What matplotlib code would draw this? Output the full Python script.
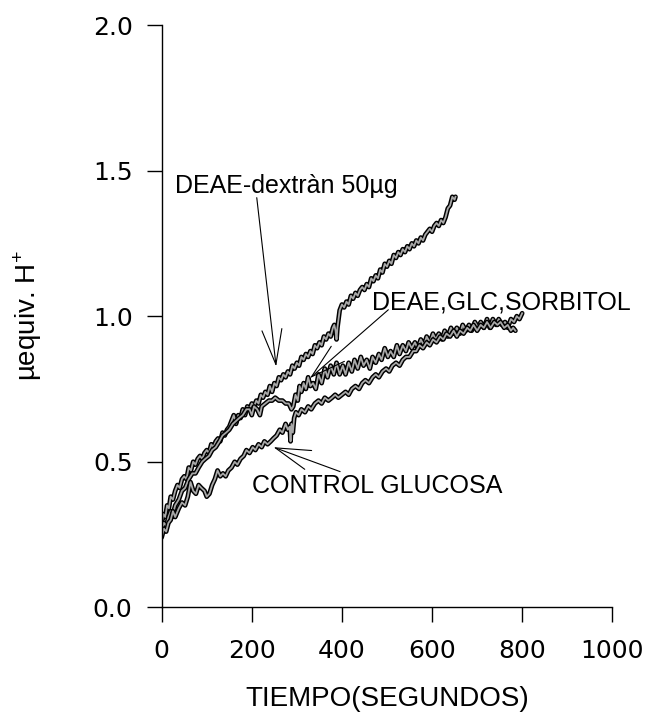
import matplotlib
matplotlib.use("Agg")
import matplotlib.pyplot as plt

plt.rcParams['font.family'] = ['Liberation Sans', 'DejaVu Sans']
plt.rcParams['mathtext.fontset'] = 'custom'
plt.rcParams['mathtext.rm'] = 'Liberation Sans'

# DEAE-dextràn 50µg (upper curve)
dextran_t = [0, 4, 8, 12, 16, 20, 25, 30, 35, 40, 45, 50, 55, 60, 65, 70, 75, 80, 85, 90,
             95, 100, 105, 110, 115, 120, 125, 130, 135, 140, 145,
             150, 155, 160, 165, 170, 175, 180, 185, 190, 195, 200, 205, 210, 215, 220,
             225, 230, 235, 240, 245, 250, 255, 260, 265, 270, 275, 280, 285, 290, 295,
             300, 305, 310, 315, 320, 325, 330, 335, 340, 345, 350, 355, 360, 365, 370,
             375, 380,
             383, 386, 388, 390,
             395, 400, 405, 410, 415, 420, 425, 430, 435, 440, 445, 450, 455, 460, 465,
             470, 475, 480, 485, 490, 495, 500, 505, 510, 515, 520, 525, 530, 535, 540,
             545, 550, 555, 560, 565, 570, 575, 580, 585, 590, 595, 600, 605, 610, 615,
             620, 625, 630, 635, 640, 645, 650,
             652]
dextran_y = [0.29, 0.32, 0.31, 0.35, 0.34, 0.38, 0.37, 0.40, 0.42, 0.41, 0.44, 0.45, 0.44,
             0.48, 0.47, 0.50, 0.49, 0.51, 0.52, 0.51, 0.53, 0.54, 0.53, 0.56, 0.55, 0.57,
             0.58, 0.57, 0.60, 0.59, 0.61,
             0.62, 0.64, 0.66, 0.63, 0.66, 0.65, 0.68, 0.66, 0.69, 0.68, 0.70, 0.69, 0.71,
             0.70, 0.73, 0.72, 0.74, 0.73, 0.76, 0.74, 0.77, 0.76, 0.79, 0.78, 0.80, 0.79,
             0.81, 0.80, 0.83, 0.82, 0.84, 0.83, 0.86, 0.85, 0.87, 0.86, 0.88, 0.87, 0.90,
             0.89, 0.91, 0.90, 0.93, 0.92, 0.94, 0.93, 0.96,
             0.97, 0.95, 0.92, 0.96,
             1.02, 1.04, 1.03, 1.05, 1.04, 1.07, 1.06, 1.08, 1.07, 1.09, 1.10, 1.09, 1.11,
             1.10, 1.13, 1.12, 1.14, 1.13, 1.16, 1.15, 1.18, 1.17, 1.19, 1.18, 1.21, 1.20,
             1.22, 1.21, 1.23, 1.22, 1.24, 1.23, 1.25, 1.24, 1.26, 1.25, 1.27, 1.26, 1.28,
             1.29, 1.30, 1.29, 1.31, 1.32, 1.31, 1.33, 1.32, 1.34, 1.37, 1.38, 1.41, 1.40,
             1.41]

# DEAE, GLC, SORBITOL
sorb_t = [0, 5, 10, 15, 20, 25, 30, 38, 45, 52, 60, 68, 75, 82, 90, 97, 105, 112, 120,
          128, 135, 143, 150, 158, 165, 172, 180, 188, 195, 200, 205, 212, 218, 222, 230,
          238, 245, 252, 260, 268, 275, 282, 288, 292, 297, 302, 306, 310, 315, 320, 325,
          330, 336, 342, 348, 355, 362, 368, 375, 382, 388, 395, 402, 408, 415, 422, 428,
          435, 442, 448, 455, 462, 468, 475, 482, 488, 495, 502, 508, 515, 522, 528, 535,
          542, 548, 555, 562, 568, 575, 582, 588, 595, 602, 608, 615, 622, 628, 635, 642,
          648, 655, 662, 668, 675, 682, 688, 695, 702, 708, 715, 722, 728, 735, 742, 748,
          755, 762, 768, 775, 782, 788, 794, 800]
sorb_y = [0.26, 0.29, 0.28, 0.31, 0.33, 0.32, 0.35, 0.37, 0.40, 0.41, 0.44, 0.46, 0.46,
          0.48, 0.50, 0.51, 0.52, 0.54, 0.55, 0.57, 0.59, 0.60, 0.61, 0.63, 0.64, 0.65,
          0.66, 0.68, 0.68, 0.66, 0.69, 0.68, 0.66, 0.69, 0.70, 0.71, 0.71, 0.72, 0.71,
          0.71, 0.70, 0.70, 0.68, 0.69, 0.73, 0.71, 0.76, 0.74, 0.77, 0.75, 0.79, 0.76,
          0.77, 0.75, 0.80, 0.77, 0.82, 0.79, 0.83, 0.80, 0.84, 0.80, 0.83, 0.80, 0.84,
          0.81, 0.85, 0.82, 0.86, 0.83, 0.85, 0.82, 0.86, 0.84, 0.87, 0.85, 0.89, 0.86,
          0.88, 0.86, 0.90, 0.87, 0.90, 0.88, 0.91, 0.89, 0.91, 0.89, 0.92, 0.90, 0.93,
          0.91, 0.94, 0.92, 0.94, 0.92, 0.95, 0.93, 0.96, 0.94, 0.96, 0.94, 0.97, 0.95,
          0.97, 0.95, 0.98, 0.96, 0.98, 0.96, 0.99, 0.96, 0.99, 0.97, 0.99, 0.97, 0.98,
          0.96, 0.99, 0.98, 1.00, 0.99, 1.01]

# CONTROL GLUCOSA
gluc_t = [0, 5, 10, 15, 20, 25, 30, 38, 45, 52, 58, 64, 70, 76, 82, 88, 95, 100, 106,
          112, 118, 124, 130, 136, 142, 148, 155, 162, 168, 175, 182, 188, 195, 202, 208,
          215, 222, 228, 235, 242, 248, 255, 262, 268, 275, 280, 284, 286, 288, 291, 294,
          298, 304, 310, 318, 325, 332, 340, 348, 355, 362, 370, 378, 385, 392, 400, 408,
          415, 422, 430, 438, 445, 452, 460, 468, 475, 482, 490, 498, 505, 512, 520, 528,
          535, 542, 550, 558, 565, 572, 580, 588, 595, 602, 610, 618, 625, 632, 640, 648,
          655, 662, 670, 678, 685, 692, 700, 708, 715, 722, 730, 738, 745, 752, 760, 768,
          775, 780, 785]
gluc_y = [0.24, 0.27, 0.26, 0.29, 0.30, 0.33, 0.31, 0.34, 0.36, 0.35, 0.38, 0.43, 0.40,
          0.39, 0.42, 0.41, 0.40, 0.38, 0.39, 0.42, 0.44, 0.47, 0.45, 0.46, 0.45, 0.47,
          0.48, 0.50, 0.49, 0.51, 0.52, 0.54, 0.53, 0.55, 0.54, 0.56, 0.55, 0.57, 0.56,
          0.57, 0.58, 0.59, 0.61, 0.60, 0.63, 0.61, 0.62, 0.57, 0.63, 0.60, 0.65, 0.67,
          0.66, 0.68, 0.67, 0.69, 0.68, 0.70, 0.71, 0.70, 0.72, 0.71, 0.72, 0.73, 0.72,
          0.73, 0.74, 0.73, 0.75, 0.76, 0.75, 0.77, 0.78, 0.77, 0.79, 0.80, 0.79, 0.81,
          0.82, 0.81, 0.83, 0.84, 0.83, 0.85, 0.86, 0.86, 0.88, 0.88, 0.90, 0.89, 0.91,
          0.90, 0.92, 0.91, 0.93, 0.92, 0.94, 0.93, 0.95, 0.93, 0.95, 0.94, 0.96, 0.95,
          0.97, 0.95, 0.97, 0.96, 0.98, 0.96, 0.98, 0.97, 0.98, 0.96, 0.97, 0.95, 0.96,
          0.95]

xticks = [0, 200, 400, 600, 800, 1000]
yticks = [0.0, 0.5, 1.0, 1.5, 2.0]

fig = plt.figure(figsize=(6.48, 7.21), dpi=100)
ax = fig.add_axes([0.2495, 0.1577, 0.6954, 0.8076])

for t, y in [(dextran_t, dextran_y), (sorb_t, sorb_y), (gluc_t, gluc_y)]:
    ax.plot(t, y, color='black', lw=3.4, solid_joinstyle='round', solid_capstyle='round')
    ax.plot(t, y, color='#a8a8a8', lw=1.3, solid_joinstyle='round')

ax.set_xlim(0, 1000)
ax.set_ylim(0, 2.0)
ax.set_xticks(xticks)
ax.set_yticks(yticks)
ax.set_xticklabels([str(v) for v in xticks])
ax.set_yticklabels([f"{v:.1f}" for v in yticks])
for lab in ax.get_xticklabels() + ax.get_yticklabels():
    lab.set_fontfamily('DejaVu Sans')
    lab.set_fontsize(18)
ax.tick_params(axis='x', direction='out', length=11, width=1, pad=12)
ax.tick_params(axis='y', direction='out', length=11, width=1, pad=10)
ax.spines['top'].set_visible(False)
ax.spines['right'].set_visible(False)
for s in ['left', 'bottom']:
    ax.spines[s].set_linewidth(1.0)

ax.set_xlabel("TIEMPO(SEGUNDOS)", fontsize=20)
ax.xaxis.set_label_coords(0.5, -0.135)
ax.set_ylabel("µequiv. H$^{+}$", fontsize=20)
ax.yaxis.set_label_coords(-0.262, 0.5)

arrow = dict(arrowstyle='->,head_length=1.4,head_width=0.4', lw=0.8, color='black',
             shrinkA=0, shrinkB=0, mutation_scale=18)
ax.text(29, 1.423, "DEAE-dextràn 50µg", fontsize=18, ha='left', va='baseline')
ax.annotate("", xy=(254, 0.827), xytext=(211, 1.407), arrowprops=arrow)
ax.text(466, 1.022, "DEAE,GLC,SORBITOL", fontsize=18, ha='left', va='baseline', clip_on=False)
ax.annotate("", xy=(329, 0.787), xytext=(503, 1.022), arrowprops=arrow)
ax.text(200, 0.392, "CONTROL GLUCOSA", fontsize=18, ha='left', va='baseline')
ax.annotate("", xy=(248, 0.55), xytext=(396, 0.466), arrowprops=arrow)

fig.savefig("out.png", dpi=100)
